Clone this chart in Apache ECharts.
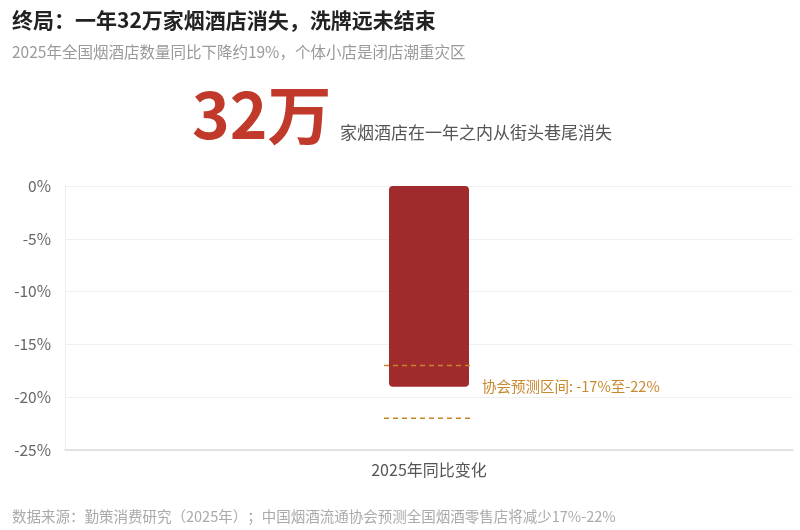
<!DOCTYPE html>
<html>
<head>
<meta charset="utf-8">
<script src="https://cdn.jsdelivr.net/npm/echarts@6/dist/echarts.min.js"></script>
<style>html,body{margin:0;padding:0;background:#fff}#c{width:800px;height:530px}</style>
</head>
<body>
<div id="c"></div>
<script>
const categories = ['2025年同比变化'];
const changeValues = [-19];
const forecastRange = [-17, -22];
const yTicks = { min: -25, max: 0, interval: 5 };

const FONT = '"Noto Sans CJK SC", "Noto Sans", sans-serif';
const chart = echarts.init(document.getElementById('c'));
chart.setOption({
  backgroundColor: '#ffffff',
  animation: false,
  textStyle: { fontFamily: FONT },
  title: [
    { text: '终局：一年32万家烟酒店消失，洗牌远未结束', left: 7, top: 5,
      textStyle: { fontSize: 21, fontWeight: 'bold', color: '#222', fontFamily: FONT } },
    { text: '2025年全国烟酒店数量同比下降约19%，个体小店是闭店潮重灾区', left: 7, top: 39,
      textStyle: { fontSize: 15.5, fontWeight: 'normal', color: '#999', fontFamily: FONT } },
    { text: '数据来源：勤策消费研究（2025年）；中国烟酒流通协会预测全国烟酒零售店将减少17%-22%', left: 7, top: 504,
      textStyle: { fontSize: 14.5, fontWeight: 'normal', color: '#aaa', fontFamily: FONT } }
  ],
  graphic: [
    { type: 'text', left: 192, top: 83,
      style: { text: '32万', fontSize: 64, fontWeight: 'bold', fill: '#C0392B', fontFamily: FONT } },
    { type: 'text', left: 340, top: 124,
      style: { text: '家烟酒店在一年之内从街头巷尾消失', fontSize: 17, fill: '#555', fontFamily: FONT } }
  ],
  grid: { left: 65, right: 7, top: 186, bottom: 80 },
  xAxis: {
    type: 'category',
    data: categories,
    axisLine: { onZero: false, lineStyle: { color: '#dcdcdc', width: 1.5 } },
    axisTick: { show: false },
    axisLabel: { fontSize: 16, color: '#555', margin: 12, fontFamily: FONT }
  },
  yAxis: {
    type: 'value',
    min: yTicks.min, max: yTicks.max, interval: yTicks.interval,
    axisLine: { show: true, lineStyle: { color: '#eeeeee' } },
    axisTick: { show: false },
    splitLine: { lineStyle: { color: '#efefef' } },
    axisLabel: { fontSize: 15.5, color: '#666', margin: 14, formatter: v => v + '%', fontFamily: FONT }
  },
  series: [
    {
      type: 'bar',
      data: changeValues,
      barWidth: 80,
      itemStyle: { color: '#A02B2D', borderRadius: 4 }
    },
    {
      type: 'custom',
      data: [[0, forecastRange[0], forecastRange[1]]],
      z: 5,
      renderItem: function (params, api) {
        const a = api.coord([api.value(0), api.value(1)]);
        const b = api.coord([api.value(0), api.value(2)]);
        const half = 45;
        const lineStyle = { stroke: '#C8862A', lineWidth: 1.5, lineDash: [5, 4] };
        const mid = api.coord([api.value(0), (api.value(1) + api.value(2)) / 2]);
        return {
          type: 'group',
          children: [
            { type: 'line', shape: { x1: a[0] - half, y1: a[1], x2: a[0] + half, y2: a[1] }, style: lineStyle },
            { type: 'line', shape: { x1: b[0] - half, y1: b[1], x2: b[0] + half, y2: b[1] }, style: lineStyle },
            { type: 'text', x: a[0] + 53, y: mid[1] - 5,
              style: { text: '协会预测区间: -17%至-22%', fontSize: 14.5, fill: '#C8882E',
                       verticalAlign: 'middle', align: 'left', fontFamily: FONT } }
          ]
        };
      }
    }
  ]
});
</script>
</body>
</html>
